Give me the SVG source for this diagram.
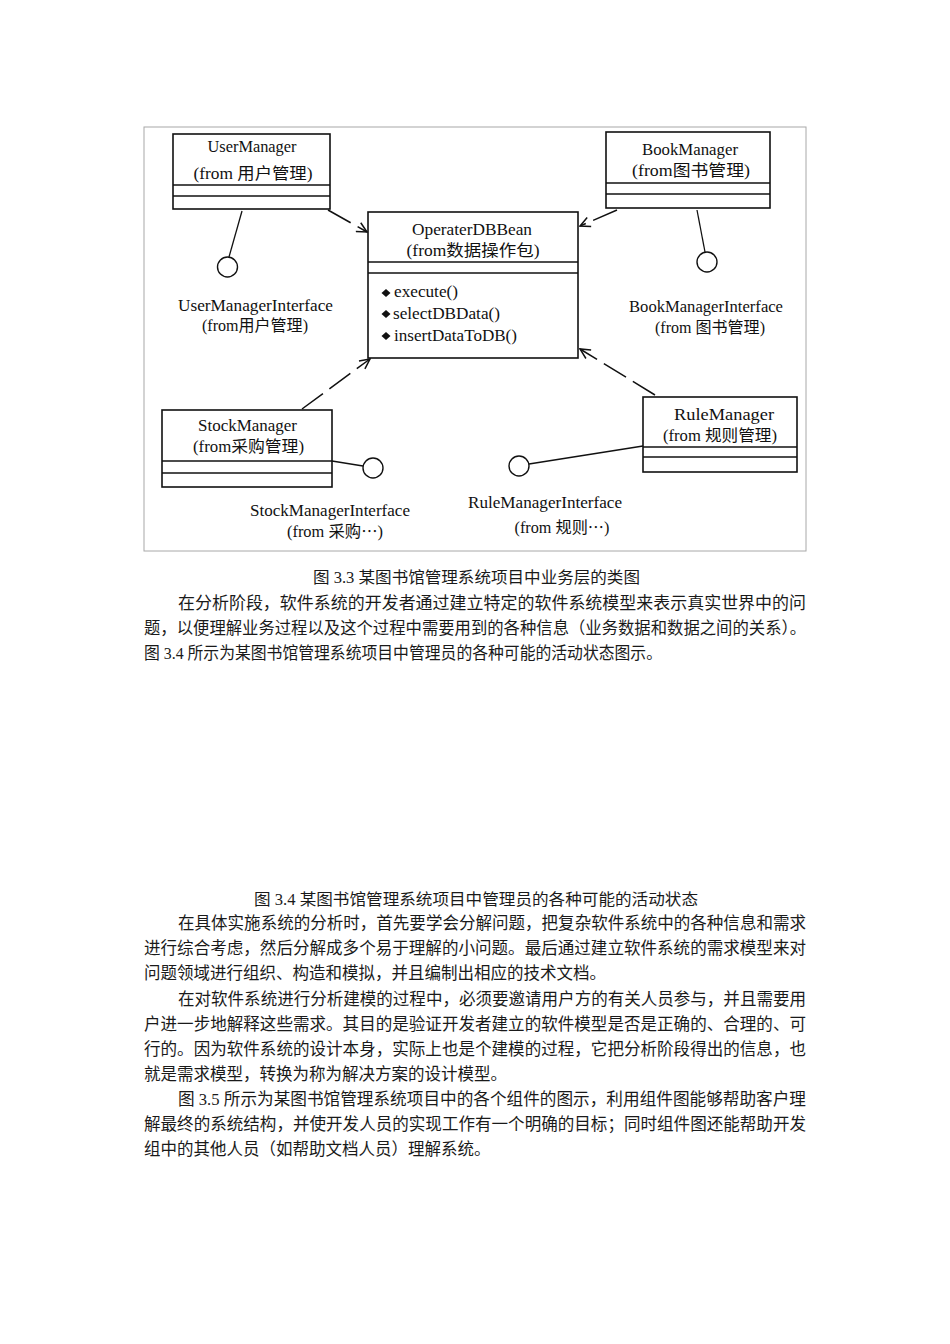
<svg xmlns="http://www.w3.org/2000/svg" width="950" height="1344" viewBox="0 0 950 1344">
<style>
.bg{fill:#ffffff}
.frame{fill:none;stroke:#a8a8a8;stroke-width:1}
.box{fill:#ffffff;stroke:#111;stroke-width:1.6}
.div{stroke:#111;stroke-width:1.4}
.lbl{font-family:"Liberation Serif","Noto Sans CJK SC",serif;font-size:16px;fill:#111;text-anchor:middle}
.m{font-family:"Liberation Serif","Noto Sans CJK SC",serif;font-size:16px;fill:#111}
.dep{fill:none;stroke:#111;stroke-width:1.5;stroke-dasharray:26 8}
.lol{fill:none;stroke:#111;stroke-width:1.3}
.circ{fill:#ffffff;stroke:#111;stroke-width:1.4}
.body{font-family:"Liberation Serif","Noto Sans CJK SC",serif;font-size:16.5px;fill:#1a1a1a}
.cap{font-family:"Liberation Serif","Noto Sans CJK SC",serif;font-size:16px;fill:#1a1a1a;text-anchor:middle}
.cjk{font-family:"Noto Sans CJK SC",sans-serif}
</style>
<defs>
<marker id="arr" viewBox="0 0 12 12" refX="11" refY="6" markerWidth="12" markerHeight="12" markerUnits="userSpaceOnUse" orient="auto">
<path d="M1,1 L11,6 L1,11" fill="none" stroke="#111" stroke-width="1.5" stroke-dasharray="none"/>
</marker>
<path id="dm" d="M0,-4 L4.5,0 L0,4 L-4.5,0 Z" fill="#111"/>
</defs>
<rect class="bg" x="0" y="0" width="950" height="1344"/>
<rect class="frame" x="144" y="127" width="662" height="424"/>

<g id="connectors">
<line class="dep" x1="328" y1="210" x2="367" y2="232" marker-end="url(#arr)"/>
<line class="dep" x1="617" y1="210" x2="580" y2="226" marker-end="url(#arr)"/>
<line class="dep" x1="302" y1="409" x2="370" y2="359" marker-end="url(#arr)"/>
<line class="dep" x1="655" y1="395" x2="580" y2="349" marker-end="url(#arr)"/>
<line class="lol" x1="242" y1="211" x2="229" y2="257"/>
<line class="lol" x1="697" y1="210" x2="705" y2="252"/>
<line class="lol" x1="332" y1="461" x2="363" y2="466"/>
<line class="lol" x1="529" y1="464" x2="643" y2="446"/>
</g>

<g id="UserManager">
<rect class="box" x="173" y="134" width="157" height="75"/>
<line class="div" x1="173" y1="185" x2="330" y2="185"/>
<line class="div" x1="173" y1="196" x2="330" y2="196"/>
<text class="lbl" x="252" y="152" textLength="89" lengthAdjust="spacingAndGlyphs">UserManager</text>
<text class="lbl" x="253" y="179" textLength="119" lengthAdjust="spacingAndGlyphs">(from 用户管理)</text>
</g>

<g id="BookManager">
<rect class="box" x="606" y="132" width="164" height="76"/>
<line class="div" x1="606" y1="183" x2="770" y2="183"/>
<line class="div" x1="606" y1="194" x2="770" y2="194"/>
<text class="lbl" x="690" y="155" textLength="96" lengthAdjust="spacingAndGlyphs">BookManager</text>
<text class="lbl" x="691" y="176" textLength="118" lengthAdjust="spacingAndGlyphs">(from图书管理)</text>
</g>

<g id="OperaterDBBean">
<rect class="box" x="368" y="212" width="210" height="146"/>
<line class="div" x1="368" y1="262" x2="578" y2="262"/>
<line class="div" x1="368" y1="273" x2="578" y2="273"/>
<text class="lbl" x="472" y="235" textLength="120" lengthAdjust="spacingAndGlyphs">OperaterDBBean</text>
<text class="lbl" x="473" y="256" textLength="133" lengthAdjust="spacingAndGlyphs">(from数据操作包)</text>
<use href="#dm" x="386" y="293"/>
<use href="#dm" x="386" y="314"/>
<use href="#dm" x="386" y="336"/>
<text class="m" x="394" y="297" textLength="64" lengthAdjust="spacingAndGlyphs">execute()</text>
<text class="m" x="393" y="319" textLength="107" lengthAdjust="spacingAndGlyphs">selectDBData()</text>
<text class="m" x="394" y="341" textLength="123" lengthAdjust="spacingAndGlyphs">insertDataToDB()</text>
</g>

<g id="StockManager">
<rect class="box" x="162" y="410" width="170" height="77"/>
<line class="div" x1="162" y1="461" x2="332" y2="461"/>
<line class="div" x1="162" y1="473" x2="332" y2="473"/>
<text class="lbl" x="247.5" y="431" textLength="99" lengthAdjust="spacingAndGlyphs">StockManager</text>
<text class="lbl" x="248.5" y="452" textLength="111" lengthAdjust="spacingAndGlyphs">(from采购管理)</text>
</g>

<g id="RuleManager">
<rect class="box" x="643" y="397" width="154" height="75"/>
<line class="div" x1="643" y1="447" x2="797" y2="447"/>
<line class="div" x1="643" y1="457" x2="797" y2="457"/>
<text class="lbl" x="724" y="420" textLength="100" lengthAdjust="spacingAndGlyphs">RuleManager</text>
<text class="lbl" x="720" y="441" textLength="114" lengthAdjust="spacingAndGlyphs">(from 规则管理)</text>
</g>

<g id="UserManagerInterface">
<circle class="circ" cx="227.5" cy="267" r="10"/>
<text class="lbl" x="255.5" y="311" textLength="155" lengthAdjust="spacingAndGlyphs">UserManagerInterface</text>
<text class="lbl" x="255" y="331" textLength="106" lengthAdjust="spacingAndGlyphs">(from用户管理)</text>
</g>

<g id="BookManagerInterface">
<circle class="circ" cx="707" cy="262" r="10"/>
<text class="lbl" x="706" y="312" textLength="154" lengthAdjust="spacingAndGlyphs">BookManagerInterface</text>
<text class="lbl" x="710" y="333" textLength="110" lengthAdjust="spacingAndGlyphs">(from 图书管理)</text>
</g>

<g id="StockManagerInterface">
<circle class="circ" cx="373" cy="468" r="10"/>
<text class="lbl" x="330" y="516" textLength="160" lengthAdjust="spacingAndGlyphs">StockManagerInterface</text>
<text class="lbl" x="335" y="537" textLength="96" lengthAdjust="spacingAndGlyphs">(from 采购<tspan class="cjk">…</tspan>)</text>
</g>

<g id="RuleManagerInterface">
<circle class="circ" cx="519" cy="466" r="10"/>
<text class="lbl" x="545" y="508" textLength="154" lengthAdjust="spacingAndGlyphs">RuleManagerInterface</text>
<text class="lbl" x="562" y="533" textLength="95" lengthAdjust="spacingAndGlyphs">(from 规则<tspan class="cjk">…</tspan>)</text>
</g>

<g id="text">
<text class="cap" x="476.5" y="583" textLength="327" lengthAdjust="spacingAndGlyphs">图 3.3 某图书馆管理系统项目中业务层的类图</text>
<text class="body" x="178" y="609" textLength="628" lengthAdjust="spacingAndGlyphs">在分析阶段，软件系统的开发者通过建立特定的软件系统模型来表示真实世界中的问</text>
<text class="body" x="144" y="634" textLength="662" lengthAdjust="spacingAndGlyphs">题，以便理解业务过程以及这个过程中需要用到的各种信息（业务数据和数据之间的关系）。</text>
<text class="body" x="144" y="659" textLength="518" lengthAdjust="spacingAndGlyphs">图 3.4 所示为某图书馆管理系统项目中管理员的各种可能的活动状态图示。</text>

<text class="cap" x="476" y="905" textLength="444" lengthAdjust="spacingAndGlyphs">图 3.4 某图书馆管理系统项目中管理员的各种可能的活动状态</text>
<text class="body" x="178" y="929" textLength="628" lengthAdjust="spacingAndGlyphs">在具体实施系统的分析时，首先要学会分解问题，把复杂软件系统中的各种信息和需求</text>
<text class="body" x="144" y="954" textLength="662" lengthAdjust="spacingAndGlyphs">进行综合考虑，然后分解成多个易于理解的小问题。最后通过建立软件系统的需求模型来对</text>
<text class="body" x="144" y="979">问题领域进行组织、构造和模拟，并且编制出相应的技术文档。</text>
<text class="body" x="178" y="1005" textLength="628" lengthAdjust="spacingAndGlyphs">在对软件系统进行分析建模的过程中，必须要邀请用户方的有关人员参与，并且需要用</text>
<text class="body" x="144" y="1030" textLength="662" lengthAdjust="spacingAndGlyphs">户进一步地解释这些需求。其目的是验证开发者建立的软件模型是否是正确的、合理的、可</text>
<text class="body" x="144" y="1055" textLength="662" lengthAdjust="spacingAndGlyphs">行的。因为软件系统的设计本身，实际上也是个建模的过程，它把分析阶段得出的信息，也</text>
<text class="body" x="144" y="1080">就是需求模型，转换为称为解决方案的设计模型。</text>
<text class="body" x="178" y="1105" textLength="628" lengthAdjust="spacingAndGlyphs">图 3.5 所示为某图书馆管理系统项目中的各个组件的图示，利用组件图能够帮助客户理</text>
<text class="body" x="144" y="1130" textLength="662" lengthAdjust="spacingAndGlyphs">解最终的系统结构，并使开发人员的实现工作有一个明确的目标；同时组件图还能帮助开发</text>
<text class="body" x="144" y="1155">组中的其他人员（如帮助文档人员）理解系统。</text>
</g>
</svg>
